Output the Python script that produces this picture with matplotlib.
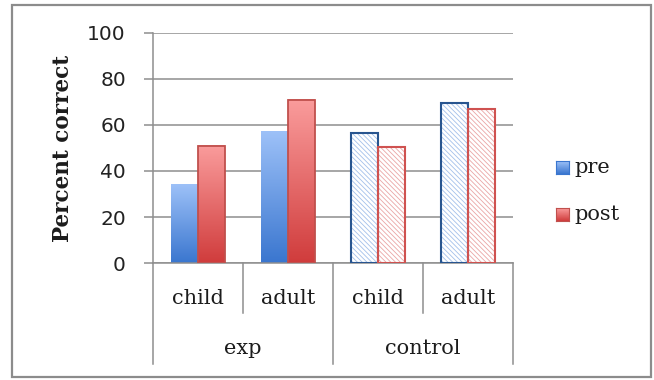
import numpy as np
import matplotlib
matplotlib.use("Agg")
import matplotlib.pyplot as plt
from matplotlib.patches import Rectangle
from matplotlib.colors import LinearSegmentedColormap
from matplotlib.lines import Line2D

# ---- data -------------------------------------------------------------
groups = ["exp", "exp", "control", "control"]
subgroups = ["child", "adult", "child", "adult"]
series_names = ["pre", "post"]
pre_values = [34, 57, 56.5, 69.5]
post_values = [51, 71, 50.5, 67]
y_ticks = [0, 20, 40, 60, 80, 100]

# ---- styling ----------------------------------------------------------
W, H = 654, 380
DPI = 100
GRID = "#8e8e8e"
TEXT = "#1c1c1c"
SERIF = "DejaVu Serif"
plt.rcParams["hatch.linewidth"] = 0.6

styles = {
    "pre": dict(top="#9dc1f8", bottom="#3a76cf", edge="#3a76cf",
                hatch="#a3c0ea", outline="#28558f"),
    "post": dict(top="#fa9c9c", bottom="#d03c3c", edge="#c0504d",
                 hatch="#eaa5a5", outline="#cf5250"),
}

fig = plt.figure(figsize=(W / DPI, H / DPI), dpi=DPI)
fig.patch.set_facecolor("white")


def px(x, y):
    """Pixel coords (from top-left) to figure fraction."""
    return x / W, 1 - y / H


ax_left, ax_right = 153, 513
ax_top, ax_bottom = 32.7, 263.2
ax = fig.add_axes([ax_left / W, 1 - ax_bottom / H,
                   (ax_right - ax_left) / W, (ax_bottom - ax_top) / H])

x = np.arange(len(subgroups))
bw = 0.3


def gradient_fill(ax, patch, top, bottom):
    bx, by = patch.get_x(), patch.get_y()
    w, h = patch.get_width(), patch.get_height()
    cmap = LinearSegmentedColormap.from_list("bar", [bottom, top])
    grad = np.linspace(0, 1, 256).reshape(-1, 1)
    ax.imshow(grad, cmap=cmap, origin="lower", extent=(bx, bx + w, by, by + h),
              aspect="auto", interpolation="bilinear", zorder=2)


for name, values, offset in [("pre", pre_values, -bw / 2),
                             ("post", post_values, bw / 2)]:
    st = styles[name]
    for xi, v, g in zip(x, values, groups):
        if g == "control":
            ax.bar(xi + offset, v, bw, facecolor="white", edgecolor=st["hatch"],
                   hatch="\\" * 7, linewidth=0, zorder=2)
            ax.bar(xi + offset, v, bw, facecolor="none", edgecolor=st["outline"],
                   linewidth=1.5, zorder=3)
        else:
            bars = ax.bar(xi + offset, v, bw, facecolor="none",
                          edgecolor=st["edge"],
                          linewidth=1.3 if name == "post" else 0, zorder=3)
            gradient_fill(ax, bars[0], st["top"], st["bottom"])

ax.set_xlim(-0.5, len(subgroups) - 0.5)
ax.set_ylim(0, 100)
ax.set_yticks(y_ticks)
ax.yaxis.grid(True, color=GRID, linewidth=1.1)
ax.set_axisbelow(True)
ax.tick_params(axis="y", length=6.5, width=1.1, color=GRID, pad=13,
               labelsize=14.5, labelcolor="#222222")
ax.set_xticks([])
for s in ["top", "right"]:
    ax.spines[s].set_visible(False)
for s in ["left", "bottom"]:
    ax.spines[s].set_color(GRID)
    ax.spines[s].set_linewidth(1.1)
for lab in ax.get_yticklabels():
    lab.set_family("DejaVu Sans")

# two-level category axis
ax_h = ax_bottom - ax_top
trans = ax.get_xaxis_transform()
inner_depth = -(313 - ax_bottom) / ax_h
outer_depth = -(364 - ax_bottom) / ax_h
for b in np.arange(-0.5, len(subgroups), 1.0):
    idx = int(round(b + 0.5))
    is_group_edge = idx in (0, len(subgroups)) or groups[idx] != groups[idx - 1]
    depth = outer_depth if is_group_edge else inner_depth
    ax.add_line(Line2D([b, b], [0, depth], transform=trans, color=GRID,
                       linewidth=1.1, clip_on=False))
for xi, s in zip(x, subgroups):
    ax.text(xi, -(298 - ax_bottom) / ax_h, s, transform=trans, ha="center",
            va="center", fontsize=15, family=SERIF, color=TEXT)
seen = []
for g in groups:
    if g not in seen:
        seen.append(g)
for g in seen:
    idxs = [i for i, gg in enumerate(groups) if gg == g]
    ax.text(np.mean(idxs), -(349 - ax_bottom) / ax_h, g, transform=trans,
            ha="center", va="center", fontsize=15, family=SERIF, color=TEXT)

# y label
fig.text(*px(63, 148), "Percent correct", rotation=90, ha="center", va="center",
         fontsize=15.5, fontweight="bold", family=SERIF, color=TEXT)

# legend
for name, ycen in [("pre", 167.5), ("post", 214.5)]:
    st = styles[name]
    lax = fig.add_axes([556 / W, 1 - (ycen + 6.5) / H, 13 / W, 13 / H])
    cmap = LinearSegmentedColormap.from_list("leg", [st["bottom"], st["top"]])
    lax.imshow(np.linspace(0, 1, 64).reshape(-1, 1), cmap=cmap, origin="lower",
               aspect="auto", extent=(0, 1, 0, 1))
    lax.set_xticks([])
    lax.set_yticks([])
    for sp in lax.spines.values():
        sp.set_color(st["edge"])
        sp.set_linewidth(0.8)
    fig.text(*px(574, ycen), name, ha="left", va="center", fontsize=15,
             family=SERIF, color=TEXT)

# outer chart frame
fig.add_artist(Rectangle(px(12, 377), (651 - 12) / W, (377 - 5) / H,
                         transform=fig.transFigure, fill=False,
                         edgecolor="#8c8c8c", linewidth=1.6))

fig.savefig("out.png", dpi=DPI)
